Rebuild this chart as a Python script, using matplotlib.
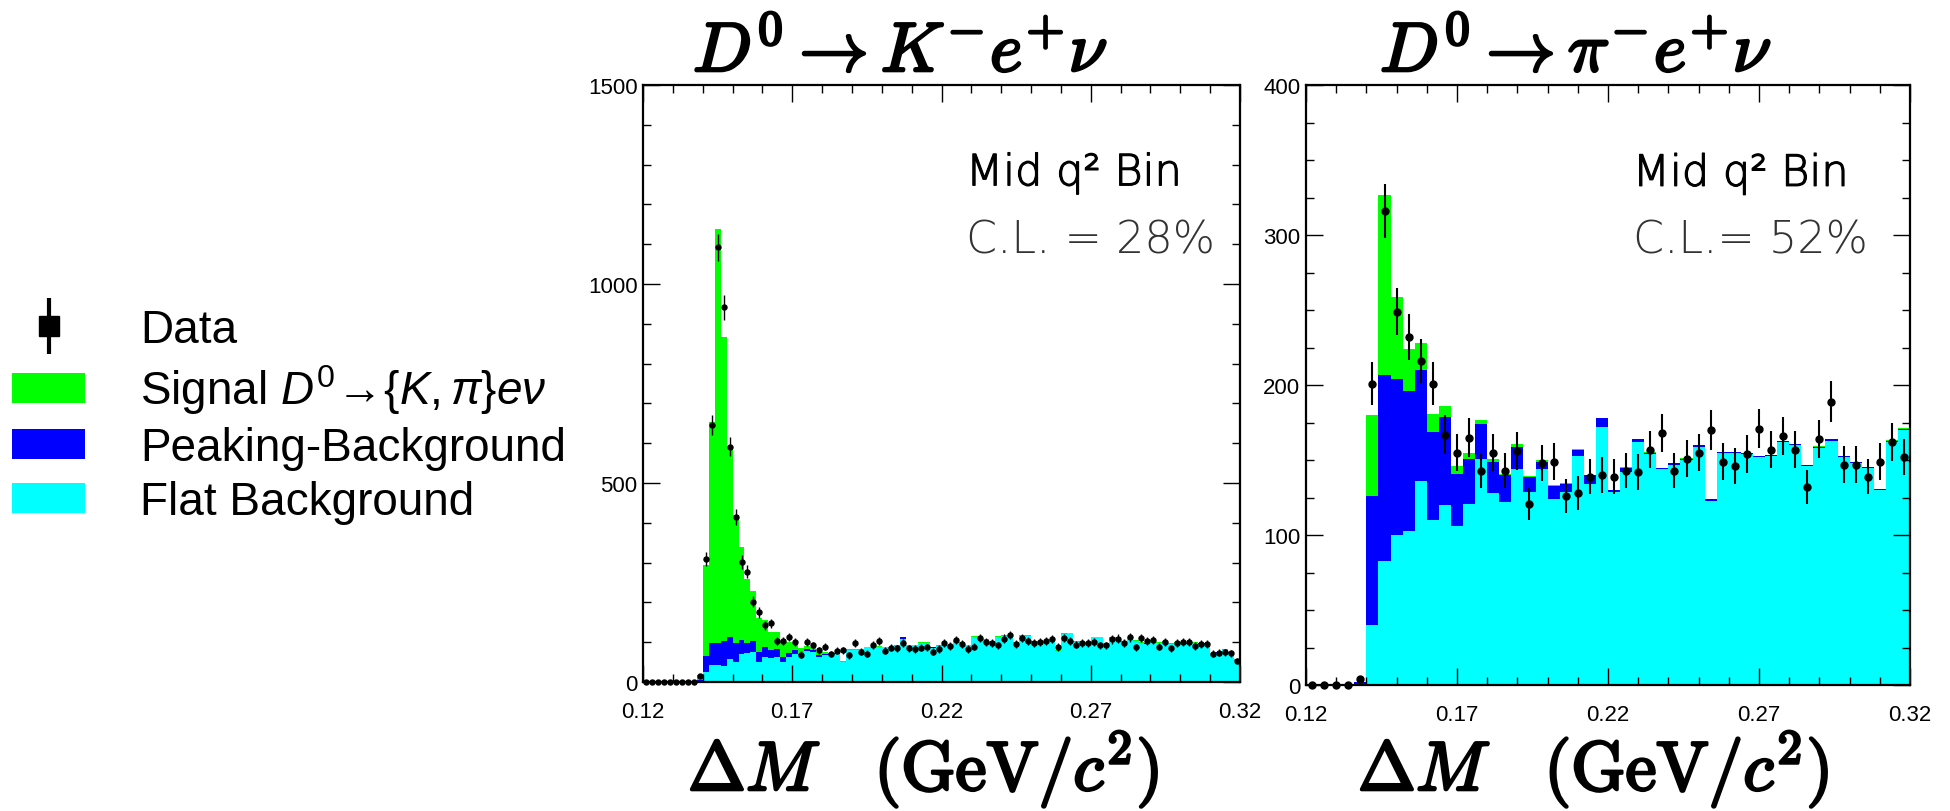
import matplotlib
matplotlib.use("Agg")
import matplotlib.pyplot as plt
import matplotlib.patheffects as pe
from matplotlib.lines import Line2D
from matplotlib.patches import Patch
from matplotlib.ticker import MultipleLocator
import numpy as np

# =====================================================================
# Data (Mid q^2 bin)
# =====================================================================
K_EDGES = np.linspace(0.12, 0.32, 101)   # 100 bins of 2 MeV
PI_EDGES = np.linspace(0.12, 0.32, 51)   # 50 bins of 4 MeV

k_data = [
    0, 0, 0, 0, 0, 0, 0, 0, 0, 16,
    308, 646, 1092, 941, 591, 414, 302, 277, 202, 175,
    142, 147, 104, 104, 113, 100, 69, 100, 92, 80,
    89, 70, 79, 80, 67, 97, 76, 71, 93, 102,
    79, 86, 85, 97, 85, 83, 86, 87, 76, 83,
    97, 90, 105, 96, 83, 89, 111, 100, 98, 92,
    109, 118, 95, 111, 102, 98, 101, 103, 108, 88,
    110, 103, 94, 98, 97, 101, 92, 92, 107, 109,
    98, 112, 87, 110, 102, 105, 89, 101, 85, 97,
    100, 100, 91, 96, 95, 71, 74, 75, 72, 52,
]
k_flat = [
    0, 0, 0, 0, 0, 0, 0, 0, 0, 2,
    26, 43, 42, 39, 57, 49, 70, 72, 76, 50,
    62, 61, 62, 50, 64, 70, 68, 77, 75, 64,
    68, 69, 70, 50, 80, 80, 80, 87, 87, 88,
    87, 87, 90, 108, 92, 92, 98, 98, 86, 90,
    94, 92, 100, 98, 92, 113, 113, 105, 100, 113,
    115, 115, 98, 115, 115, 100, 100, 102, 105, 78,
    120, 122, 100, 100, 98, 112, 112, 95, 110, 110,
    100, 112, 103, 98, 96, 103, 98, 100, 95, 98,
    98, 96, 98, 96, 96, 72, 74, 80, 74, 55,
]
k_peak = [
    0, 0, 0, 0, 0, 0, 0, 0, 0, 4,
    39, 54, 57, 64, 57, 48, 35, 25, 28, 25,
    25, 19, 20, 12, 9, 10, 2, 7, 5, 5,
    3, 2, 2, 1, 1, 1, 1, 1, 1, 1,
    1, 1, 1, 4, 1, 1, 1, 1, 2, 1,
    1, 1, 1, 1, 1, 1, 1, 1, 1, 1,
    1, 1, 1, 1, 1, 1, 1, 1, 1, 1,
    1, 1, 1, 1, 1, 1, 1, 1, 1, 1,
    1, 1, 1, 1, 1, 1, 1, 1, 1, 1,
    1, 1, 1, 1, 1, 1, 1, 1, 1, 1,
]
k_signal = [
    0, 0, 0, 0, 0, 0, 0, 0, 0, 12,
    228, 557, 1039, 764, 480, 322, 233, 163, 124, 87,
    68, 46, 43, 38, 27, 17, 15, 6, 8, 6,
    5, 3, 2, 1, 2, 2, 1, 1, 1, 1,
    1, 1, 1, 1, 1, 1, 1, 1, 1, 1,
    1, 1, 1, 1, 1, 1, 1, 1, 1, 1,
    1, 1, 1, 1, 1, 1, 1, 1, 1, 1,
    1, 1, 1, 1, 1, 1, 1, 1, 1, 1,
    1, 1, 1, 1, 1, 1, 1, 1, 1, 1,
    1, 1, 1, 1, 1, 1, 1, 1, 1, 1,
]

pi_data = [
    0, 0, 0, 0, 4, 201, 316, 249, 232, 216,
    201, 167, 155, 165, 143, 155, 143, 156, 121, 148,
    149, 126, 128, 139, 140, 139, 143, 142, 157, 168,
    143, 151, 155, 170, 149, 146, 154, 171, 157, 166,
    157, 132, 164, 189, 147, 147, 139, 149, 162, 152,
]
pi_flat = [
    0, 0, 0, 0, 0, 40, 83, 100, 103, 136,
    110, 120, 106, 121, 151, 128, 122, 144, 129, 144,
    124, 129, 153, 134, 172, 129, 142, 162, 154, 144,
    147, 150, 159, 123, 155, 155, 154, 152, 153, 162,
    160, 146, 158, 163, 152, 148, 145, 130, 162, 170,
]
pi_peak = [
    0, 0, 0, 0, 2, 86, 124, 104, 93, 74,
    59, 59, 35, 30, 23, 21, 18, 15, 10, 5,
    9, 5, 4, 6, 6, 1, 3, 2, 1, 0.5,
    1, 1, 1, 1, 0.5, 0.5, 0.5, 0.5, 0.5, 0.5,
    0.5, 0.5, 1, 1, 0.5, 0.5, 0.5, 0.5, 1, 1,
]
pi_signal = [
    0, 0, 0, 0, 0, 54, 120, 55, 28, 18,
    12, 7, 5, 4, 3, 2, 1, 2, 0.5, 1,
    0.5, 1, 0.5, 0.3, 0.3, 0.2, 0.2, 0.2, 0.2, 0.1,
    0.1, 0.1, 0.1, 0.1, 0.1, 0.1, 0.1, 0.1, 0.1, 0.1,
    0.1, 0.1, 0.1, 0.1, 0.1, 0.1, 0.1, 0.1, 0.1, 0.1,
]

X_TICKS = [0.12, 0.17, 0.22, 0.27, 0.32]
X_TICK_LABELS = ["0.12", "0.17", "0.22", "0.27", "0.32"]

GREEN = "#00ff00"
BLUE = "#0000ff"
CYAN = "#00ffff"

plt.rcParams["font.family"] = ["Liberation Sans", "DejaVu Sans"]
plt.rcParams["mathtext.fontset"] = "custom"
plt.rcParams["mathtext.rm"] = "Liberation Sans"
plt.rcParams["mathtext.it"] = "Liberation Sans:italic"

W, H = 1950, 812
fig = plt.figure(figsize=(W / 100, H / 100), dpi=100)


def px_axes(left, right, top, bottom):
    return fig.add_axes([left / W, 1 - bottom / H, (right - left) / W, (bottom - top) / H])


def draw_panel(ax, edges, flat, peak, signal, data, ymax, ymajor, yminor, ms, elw):
    flat = np.asarray(flat, dtype=float)
    peak = np.asarray(peak, dtype=float)
    signal = np.asarray(signal, dtype=float)
    data = np.asarray(data, dtype=float)

    # stacked histogram, drawn back to front
    ax.stairs(flat + peak + signal, edges, fill=True, color=GREEN, lw=0)
    ax.stairs(flat + peak, edges, fill=True, color=BLUE, lw=0)
    ax.stairs(flat, edges, fill=True, color=CYAN, lw=0)

    centers = 0.5 * (edges[:-1] + edges[1:])
    ax.errorbar(centers, data, yerr=np.sqrt(data), fmt="o", color="black",
                ms=ms, elinewidth=elw, capsize=0, zorder=5, clip_on=False)

    ax.set_xlim(0.12, 0.32)
    ax.set_ylim(0, ymax)
    ax.set_xticks(X_TICKS)
    ax.set_xticklabels(X_TICK_LABELS)
    ax.xaxis.set_minor_locator(MultipleLocator(0.01))
    ax.yaxis.set_major_locator(MultipleLocator(ymajor))
    ax.yaxis.set_minor_locator(MultipleLocator(yminor))
    ax.tick_params(which="both", direction="in", top=True, right=True, width=1.0)
    ax.tick_params(which="major", length=12, labelsize=16)
    ax.tick_params(which="minor", length=6)
    ax.tick_params(axis="x", pad=14)
    ax.tick_params(axis="y", pad=4)
    for sp in ax.spines.values():
        sp.set_linewidth(1.6)


ax1 = px_axes(643, 1240, 86, 683)
draw_panel(ax1, K_EDGES, k_flat, k_peak, k_signal, k_data, 1500, 500, 100, 3.6, 1.0)
ax2 = px_axes(1306, 1910, 86, 686)
draw_panel(ax2, PI_EDGES, pi_flat, pi_peak, pi_signal, pi_data, 400, 100, 25, 5.0, 1.5)

# fit labels
thin_stroke = [pe.withStroke(linewidth=0.9, foreground="black")]
for ax, cl in [(ax1, "C.L. = 28%"), (ax2, "C.L.= 52%")]:
    ax.text(0.541, 0.832, "Mid q² Bin", transform=ax.transAxes, fontsize=31,
            family="DejaVu Sans", fontweight=200, color="black", va="baseline",
            path_effects=thin_stroke)
    ax.text(0.541, 0.72, cl, transform=ax.transAxes, fontsize=32,
            family="DejaVu Sans", fontweight=200, color="#333333", va="baseline")

# titles and x labels, TeX look
stroke = [pe.withStroke(linewidth=2.0, foreground="black")]
fig.text(693 / W, 1 - 72 / H, r"$D^0 \rightarrow K^{-}e^{+}\nu$", fontsize=50,
         math_fontfamily="cm", va="baseline", ha="left", path_effects=stroke)
fig.text(1380 / W, 1 - 72 / H, r"$D^0 \rightarrow \pi^{-}e^{+}\nu$", fontsize=50,
         math_fontfamily="cm", va="baseline", ha="left", path_effects=stroke)
for x0 in (688, 1358):
    fig.text(x0 / W, 1 - 791 / H, r"$\Delta M\ \ \ (\mathrm{GeV}/c^2)$", fontsize=50,
             math_fontfamily="cm", va="baseline", ha="left", path_effects=stroke)

# legend
data_handle = (
    Line2D([], [], color="black", marker="|", ms=40, mew=3, ls="none"),
    Line2D([], [], color="black", marker="s", ms=15, ls="none"),
)
handles = [
    data_handle,
    Patch(facecolor=GREEN, edgecolor="none"),
    Patch(facecolor=BLUE, edgecolor="none"),
    Patch(facecolor=CYAN, edgecolor="none"),
]
labels = [
    "Data",
    r"Signal $D^{\mathit{0}}\!\rightarrow\!\{K,\pi\}e\nu$",
    "Peaking-Background",
    "Flat Background",
]
fig.legend(handles, labels, loc="upper left", bbox_to_anchor=(12 / W, 1 - 309 / H),
           bbox_transform=fig.transFigure, frameon=False, fontsize=33,
           borderpad=0, borderaxespad=0, handlelength=1.6, handleheight=0.65,
           handletextpad=1.2, labelspacing=0.22)

plt.savefig("out.png", dpi=100)
